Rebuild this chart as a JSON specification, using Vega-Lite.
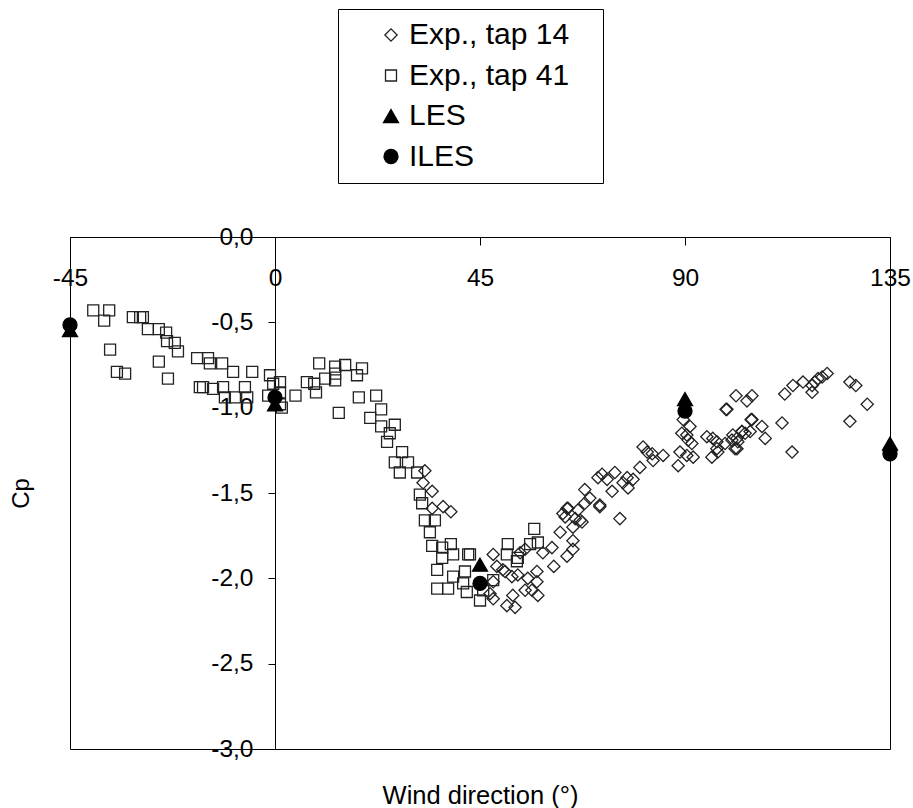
{
  "$schema": "https://vega.github.io/schema/vega-lite/v6.json",
  "width": 820,
  "height": 512,
  "autosize": "none",
  "padding": {"left": 70, "top": 237, "right": 23, "bottom": 59},
  "background": "white",
  "config": {
    "view": {"stroke": "#000", "strokeWidth": 1},
    "font": "Liberation Sans",
    "axis": {"labelFont": "Liberation Sans", "titleFont": "Liberation Sans", "labelColor": "#000", "titleColor": "#000", "domainColor": "#000", "tickColor": "#000", "grid": false, "labelFontSize": 24.5, "titleFontSize": 25, "titleFontWeight": "normal"},
    "legend": {"labelFont": "Liberation Sans"}
  },
  "data": {"values": [
    {"s":"Exp., tap 14","wd":32.9,"cp":-1.37},{"s":"Exp., tap 14","wd":32.5,"cp":-1.44},{"s":"Exp., tap 14","wd":34.5,"cp":-1.49},{"s":"Exp., tap 14","wd":34.5,"cp":-1.59},{"s":"Exp., tap 14","wd":36.9,"cp":-1.58},{"s":"Exp., tap 14","wd":38.6,"cp":-1.61},
    {"s":"Exp., tap 14","wd":48.7,"cp":-1.93},{"s":"Exp., tap 14","wd":50.5,"cp":-1.96},{"s":"Exp., tap 14","wd":47.9,"cp":-2.02},{"s":"Exp., tap 14","wd":47.2,"cp":-2.09},
    {"s":"Exp., tap 14","wd":68.0,"cp":-1.48},{"s":"Exp., tap 14","wd":64.3,"cp":-1.59},{"s":"Exp., tap 14","wd":66.5,"cp":-1.60},{"s":"Exp., tap 14","wd":68.0,"cp":-1.56},{"s":"Exp., tap 14","wd":69.1,"cp":-1.53},{"s":"Exp., tap 14","wd":71.3,"cp":-1.57},{"s":"Exp., tap 14","wd":74.0,"cp":-1.49},{"s":"Exp., tap 14","wd":72.9,"cp":-1.42},{"s":"Exp., tap 14","wd":65.9,"cp":-1.65},{"s":"Exp., tap 14","wd":67.4,"cp":-1.67},{"s":"Exp., tap 14","wd":63.2,"cp":-1.62},{"s":"Exp., tap 14","wd":62.6,"cp":-1.73},{"s":"Exp., tap 14","wd":65.4,"cp":-1.78},{"s":"Exp., tap 14","wd":65.4,"cp":-1.83},{"s":"Exp., tap 14","wd":64.1,"cp":-1.87},{"s":"Exp., tap 14","wd":60.8,"cp":-1.82},{"s":"Exp., tap 14","wd":58.8,"cp":-1.85},{"s":"Exp., tap 14","wd":61.2,"cp":-1.93},{"s":"Exp., tap 14","wd":57.5,"cp":-1.96},{"s":"Exp., tap 14","wd":54.9,"cp":-1.83},{"s":"Exp., tap 14","wd":53.8,"cp":-1.85},{"s":"Exp., tap 14","wd":47.9,"cp":-1.86},{"s":"Exp., tap 14","wd":50.0,"cp":-1.95},{"s":"Exp., tap 14","wd":52.0,"cp":-1.99},{"s":"Exp., tap 14","wd":53.3,"cp":-1.98},{"s":"Exp., tap 14","wd":55.5,"cp":-2.00},{"s":"Exp., tap 14","wd":57.5,"cp":-2.02},{"s":"Exp., tap 14","wd":54.9,"cp":-2.07},{"s":"Exp., tap 14","wd":56.4,"cp":-2.07},{"s":"Exp., tap 14","wd":57.7,"cp":-2.10},{"s":"Exp., tap 14","wd":52.2,"cp":-2.10},{"s":"Exp., tap 14","wd":50.9,"cp":-2.16},{"s":"Exp., tap 14","wd":52.7,"cp":-2.17},{"s":"Exp., tap 14","wd":47.9,"cp":-2.12},
    {"s":"Exp., tap 14","wd":104.7,"cp":-0.93},{"s":"Exp., tap 14","wd":101.2,"cp":-0.93},{"s":"Exp., tap 14","wd":103.6,"cp":-0.96},{"s":"Exp., tap 14","wd":99.0,"cp":-1.01},{"s":"Exp., tap 14","wd":104.7,"cp":-1.07},{"s":"Exp., tap 14","wd":89.6,"cp":-1.07},{"s":"Exp., tap 14","wd":91.1,"cp":-1.11},{"s":"Exp., tap 14","wd":89.3,"cp":-1.15},{"s":"Exp., tap 14","wd":90.4,"cp":-1.16},{"s":"Exp., tap 14","wd":90.7,"cp":-1.19},{"s":"Exp., tap 14","wd":91.5,"cp":-1.21},{"s":"Exp., tap 14","wd":94.8,"cp":-1.17},{"s":"Exp., tap 14","wd":96.1,"cp":-1.18},{"s":"Exp., tap 14","wd":97.0,"cp":-1.20},{"s":"Exp., tap 14","wd":98.8,"cp":-1.21},{"s":"Exp., tap 14","wd":100.5,"cp":-1.16},{"s":"Exp., tap 14","wd":100.3,"cp":-1.19},{"s":"Exp., tap 14","wd":101.4,"cp":-1.18},{"s":"Exp., tap 14","wd":102.5,"cp":-1.14},{"s":"Exp., tap 14","wd":103.2,"cp":-1.15},{"s":"Exp., tap 14","wd":97.0,"cp":-1.24},{"s":"Exp., tap 14","wd":97.2,"cp":-1.26},{"s":"Exp., tap 14","wd":101.4,"cp":-1.24},{"s":"Exp., tap 14","wd":95.9,"cp":-1.29},{"s":"Exp., tap 14","wd":88.9,"cp":-1.26},{"s":"Exp., tap 14","wd":90.4,"cp":-1.28},{"s":"Exp., tap 14","wd":91.8,"cp":-1.29},{"s":"Exp., tap 14","wd":88.5,"cp":-1.34},{"s":"Exp., tap 14","wd":80.8,"cp":-1.23},{"s":"Exp., tap 14","wd":81.7,"cp":-1.26},{"s":"Exp., tap 14","wd":82.8,"cp":-1.27},{"s":"Exp., tap 14","wd":83.0,"cp":-1.31},{"s":"Exp., tap 14","wd":85.2,"cp":-1.28},{"s":"Exp., tap 14","wd":80.1,"cp":-1.35},{"s":"Exp., tap 14","wd":74.6,"cp":-1.38},{"s":"Exp., tap 14","wd":71.8,"cp":-1.39},{"s":"Exp., tap 14","wd":70.9,"cp":-1.41},{"s":"Exp., tap 14","wd":77.3,"cp":-1.41},{"s":"Exp., tap 14","wd":76.4,"cp":-1.44},{"s":"Exp., tap 14","wd":77.5,"cp":-1.47},{"s":"Exp., tap 14","wd":78.6,"cp":-1.42},{"s":"Exp., tap 14","wd":71.3,"cp":-1.58},{"s":"Exp., tap 14","wd":75.7,"cp":-1.65},{"s":"Exp., tap 14","wd":64.1,"cp":-1.59},{"s":"Exp., tap 14","wd":63.7,"cp":-1.64},{"s":"Exp., tap 14","wd":67.0,"cp":-1.66},{"s":"Exp., tap 14","wd":65.4,"cp":-1.70},
    {"s":"Exp., tap 14","wd":121.2,"cp":-0.80},{"s":"Exp., tap 14","wd":120.1,"cp":-0.82},{"s":"Exp., tap 14","wd":119.2,"cp":-0.83},{"s":"Exp., tap 14","wd":118.5,"cp":-0.85},{"s":"Exp., tap 14","wd":117.9,"cp":-0.87},{"s":"Exp., tap 14","wd":115.9,"cp":-0.85},{"s":"Exp., tap 14","wd":113.7,"cp":-0.87},{"s":"Exp., tap 14","wd":117.9,"cp":-0.91},{"s":"Exp., tap 14","wd":111.9,"cp":-0.92},{"s":"Exp., tap 14","wd":126.2,"cp":-0.85},{"s":"Exp., tap 14","wd":127.5,"cp":-0.87},{"s":"Exp., tap 14","wd":130.0,"cp":-0.98},{"s":"Exp., tap 14","wd":126.2,"cp":-1.08},{"s":"Exp., tap 14","wd":111.3,"cp":-1.09},{"s":"Exp., tap 14","wd":113.5,"cp":-1.26},{"s":"Exp., tap 14","wd":99.2,"cp":-1.01},{"s":"Exp., tap 14","wd":104.5,"cp":-1.07},{"s":"Exp., tap 14","wd":106.9,"cp":-1.11},{"s":"Exp., tap 14","wd":107.6,"cp":-1.18},{"s":"Exp., tap 14","wd":104.3,"cp":-1.14},{"s":"Exp., tap 14","wd":102.5,"cp":-1.14},{"s":"Exp., tap 14","wd":101.6,"cp":-1.20},{"s":"Exp., tap 14","wd":101.0,"cp":-1.24},
    {"s":"Exp., tap 41","wd":-39.9,"cp":-0.43},{"s":"Exp., tap 41","wd":-36.4,"cp":-0.43},{"s":"Exp., tap 41","wd":-37.5,"cp":-0.49},{"s":"Exp., tap 41","wd":-31.2,"cp":-0.47},{"s":"Exp., tap 41","wd":-29.6,"cp":-0.47},{"s":"Exp., tap 41","wd":-29.0,"cp":-0.47},{"s":"Exp., tap 41","wd":-27.9,"cp":-0.54},{"s":"Exp., tap 41","wd":-25.5,"cp":-0.54},{"s":"Exp., tap 41","wd":-23.9,"cp":-0.56},{"s":"Exp., tap 41","wd":-23.7,"cp":-0.61},{"s":"Exp., tap 41","wd":-22.0,"cp":-0.62},{"s":"Exp., tap 41","wd":-21.3,"cp":-0.67},{"s":"Exp., tap 41","wd":-36.2,"cp":-0.66},{"s":"Exp., tap 41","wd":-34.7,"cp":-0.79},{"s":"Exp., tap 41","wd":-32.9,"cp":-0.80},{"s":"Exp., tap 41","wd":-25.5,"cp":-0.73},{"s":"Exp., tap 41","wd":-23.5,"cp":-0.83},{"s":"Exp., tap 41","wd":-17.1,"cp":-0.71},{"s":"Exp., tap 41","wd":-14.7,"cp":-0.71},{"s":"Exp., tap 41","wd":-14.3,"cp":-0.74},{"s":"Exp., tap 41","wd":-11.6,"cp":-0.74},{"s":"Exp., tap 41","wd":-9.2,"cp":-0.79},{"s":"Exp., tap 41","wd":-5.0,"cp":-0.79},{"s":"Exp., tap 41","wd":-16.5,"cp":-0.88},{"s":"Exp., tap 41","wd":-15.8,"cp":-0.88},{"s":"Exp., tap 41","wd":-13.6,"cp":-0.89},{"s":"Exp., tap 41","wd":-11.4,"cp":-0.88},{"s":"Exp., tap 41","wd":-11.0,"cp":-0.94},{"s":"Exp., tap 41","wd":-8.8,"cp":-0.94},{"s":"Exp., tap 41","wd":-6.6,"cp":-0.88},{"s":"Exp., tap 41","wd":-6.1,"cp":-0.94},{"s":"Exp., tap 41","wd":-1.1,"cp":-0.81},{"s":"Exp., tap 41","wd":-0.4,"cp":-0.86},{"s":"Exp., tap 41","wd":1.1,"cp":-0.85},{"s":"Exp., tap 41","wd":-1.5,"cp":-0.93},{"s":"Exp., tap 41","wd":1.1,"cp":-0.98},{"s":"Exp., tap 41","wd":4.5,"cp":-0.93},{"s":"Exp., tap 41","wd":1.1,"cp":-0.91},{"s":"Exp., tap 41","wd":1.5,"cp":-1.0},{"s":"Exp., tap 41","wd":7.0,"cp":-0.85},{"s":"Exp., tap 41","wd":8.6,"cp":-0.86},{"s":"Exp., tap 41","wd":9.0,"cp":-0.91},{"s":"Exp., tap 41","wd":9.7,"cp":-0.74},{"s":"Exp., tap 41","wd":11.0,"cp":-0.83},{"s":"Exp., tap 41","wd":13.2,"cp":-0.76},{"s":"Exp., tap 41","wd":13.2,"cp":-0.80},{"s":"Exp., tap 41","wd":13.2,"cp":-0.84},{"s":"Exp., tap 41","wd":15.4,"cp":-0.75},{"s":"Exp., tap 41","wd":18.0,"cp":-0.81},{"s":"Exp., tap 41","wd":19.1,"cp":-0.77},{"s":"Exp., tap 41","wd":14.0,"cp":-1.03},{"s":"Exp., tap 41","wd":18.4,"cp":-0.94},{"s":"Exp., tap 41","wd":22.2,"cp":-0.93},{"s":"Exp., tap 41","wd":23.3,"cp":-1.01},{"s":"Exp., tap 41","wd":20.9,"cp":-1.06},{"s":"Exp., tap 41","wd":23.3,"cp":-1.11},{"s":"Exp., tap 41","wd":26.3,"cp":-1.10},{"s":"Exp., tap 41","wd":25.2,"cp":-1.15},{"s":"Exp., tap 41","wd":24.6,"cp":-1.20},{"s":"Exp., tap 41","wd":27.9,"cp":-1.26},{"s":"Exp., tap 41","wd":26.3,"cp":-1.32},{"s":"Exp., tap 41","wd":29.2,"cp":-1.32},{"s":"Exp., tap 41","wd":27.4,"cp":-1.38},{"s":"Exp., tap 41","wd":31.2,"cp":-1.38},{"s":"Exp., tap 41","wd":31.8,"cp":-1.51},{"s":"Exp., tap 41","wd":32.3,"cp":-1.56},{"s":"Exp., tap 41","wd":32.9,"cp":-1.66},{"s":"Exp., tap 41","wd":35.1,"cp":-1.66},{"s":"Exp., tap 41","wd":34.0,"cp":-1.73},{"s":"Exp., tap 41","wd":34.5,"cp":-1.81},{"s":"Exp., tap 41","wd":36.7,"cp":-1.82},{"s":"Exp., tap 41","wd":38.6,"cp":-1.80},{"s":"Exp., tap 41","wd":36.7,"cp":-1.88},{"s":"Exp., tap 41","wd":39.1,"cp":-1.86},{"s":"Exp., tap 41","wd":42.4,"cp":-1.86},{"s":"Exp., tap 41","wd":42.8,"cp":-1.86},{"s":"Exp., tap 41","wd":35.6,"cp":-1.95},{"s":"Exp., tap 41","wd":39.1,"cp":-1.99},{"s":"Exp., tap 41","wd":41.7,"cp":-1.96},{"s":"Exp., tap 41","wd":35.6,"cp":-2.06},{"s":"Exp., tap 41","wd":38.0,"cp":-2.06},{"s":"Exp., tap 41","wd":41.3,"cp":-2.03},{"s":"Exp., tap 41","wd":42.1,"cp":-2.08},{"s":"Exp., tap 41","wd":45.0,"cp":-2.13},{"s":"Exp., tap 41","wd":45.7,"cp":-2.07},{"s":"Exp., tap 41","wd":51.1,"cp":-1.80},{"s":"Exp., tap 41","wd":50.9,"cp":-1.86},{"s":"Exp., tap 41","wd":53.3,"cp":-1.88},{"s":"Exp., tap 41","wd":56.9,"cp":-1.71},{"s":"Exp., tap 41","wd":56.0,"cp":-1.80},{"s":"Exp., tap 41","wd":57.7,"cp":-1.79},{"s":"Exp., tap 41","wd":53.1,"cp":-1.90},{"s":"Exp., tap 41","wd":47.9,"cp":-2.01},
    {"s":"LES","wd":-45,"cp":-0.545},{"s":"LES","wd":0,"cp":-0.98},{"s":"LES","wd":45,"cp":-1.92},{"s":"LES","wd":90,"cp":-0.95},{"s":"LES","wd":135,"cp":-1.21},
    {"s":"ILES","wd":-45,"cp":-0.515},{"s":"ILES","wd":0,"cp":-0.94},{"s":"ILES","wd":45,"cp":-2.03},{"s":"ILES","wd":90,"cp":-1.02},{"s":"ILES","wd":135,"cp":-1.27}
  ]},
  "mark": {"type": "point", "opacity": 1, "strokeWidth": 1.3},
  "encoding": {
    "x": {
      "field": "wd", "type": "quantitative",
      "scale": {"domain": [-45, 135], "nice": false, "zero": false},
      "axis": {"orient": "bottom", "offset": -512, "values": [-45, 0, 45, 90, 135], "labelExpr": "(datum.value < 0 ? '-' : '') + abs(datum.value)", "tickSize": 8, "labelPadding": 21, "labelFlush": false, "labelOverlap": false, "title": "Wind direction (°)", "titleY": 566, "titleBaseline": "alphabetic", "titleFontSize": 25.5}
    },
    "y": {
      "field": "cp", "type": "quantitative",
      "scale": {"domain": [-3, 0], "nice": false, "zero": false},
      "axis": {"orient": "left", "offset": -205, "values": [0, -0.5, -1, -1.5, -2, -2.5, -3], "labelExpr": "replace((datum.value < 0 ? '-' : '') + format(abs(datum.value), '.1f'), '.', ',')", "tickSize": 7, "labelPadding": 15, "labelFlush": false, "labelOverlap": false, "title": "Cp", "titleX": -247, "titleY": 256, "titleAngle": -90, "titleAlign": "center", "titleBaseline": "alphabetic", "titleFontSize": 24}
    },
    "shape": {
      "field": "s", "type": "nominal",
      "scale": {"domain": ["Exp., tap 14", "Exp., tap 41", "LES", "ILES"], "range": ["diamond", "square", "triangle-up", "circle"]},
      "legend": {"orient": "none", "legendX": 268, "legendY": -228, "title": null, "padding": 11, "strokeColor": "#000", "fillColor": "white", "labelFontSize": 30, "labelColor": "#000", "labelLimit": 400, "rowPadding": 10.5, "symbolOffset": 27, "labelOffset": 3, "symbolStrokeWidth": 1.3, "labelExpr": "datum.label + '\u2800'"}
    },
    "fill": {
      "field": "s", "type": "nominal",
      "scale": {"domain": ["Exp., tap 14", "Exp., tap 41", "LES", "ILES"], "range": ["transparent", "transparent", "#000", "#000"]}
    },
    "stroke": {
      "field": "s", "type": "nominal",
      "scale": {"domain": ["Exp., tap 14", "Exp., tap 41", "LES", "ILES"], "range": ["#222", "#222", "#000", "#000"]}
    },
    "size": {
      "field": "s", "type": "nominal",
      "scale": {"type": "ordinal", "domain": ["Exp., tap 14", "Exp., tap 41", "LES", "ILES"], "range": [150, 121, 225, 196]}
    }
  }
}
